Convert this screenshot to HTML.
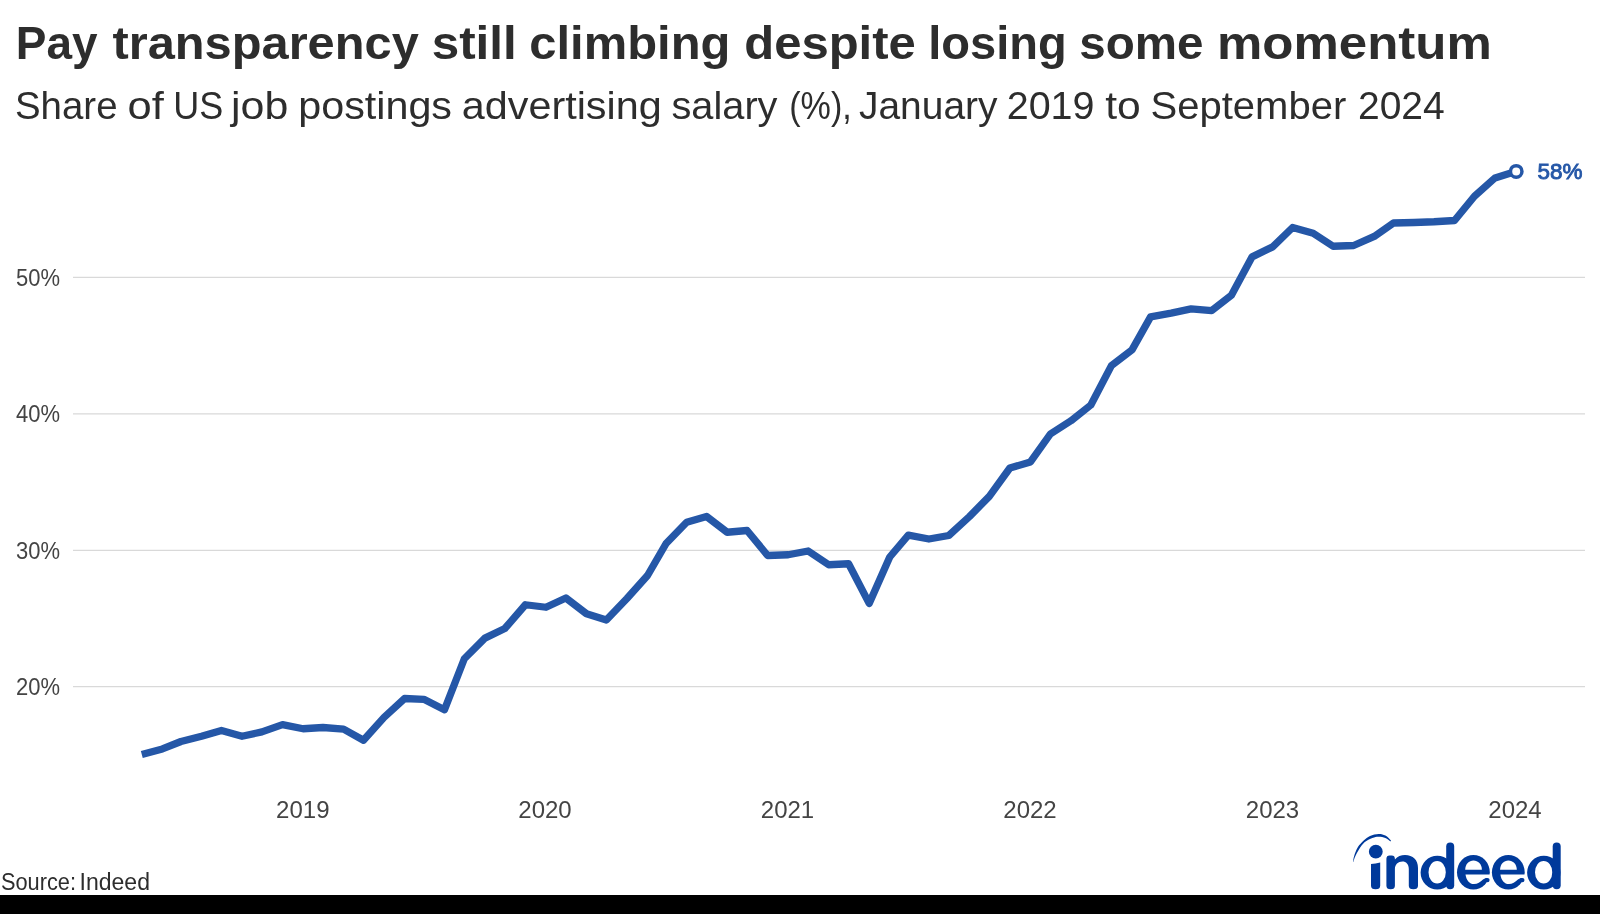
<!DOCTYPE html>
<html><head><meta charset="utf-8"><style>
html,body{margin:0;padding:0;background:#fff;width:1600px;height:914px;overflow:hidden;}
svg{position:absolute;left:0;top:0;display:block;will-change:transform;}
text{font-family:"Liberation Sans",sans-serif;}
</style></head><body>
<svg width="1600" height="914" viewBox="0 0 1600 914">
<rect x="0" y="0" width="1600" height="914" fill="#fff"/>
<g id="words">
<text x="15.75" y="59.2" font-size="47" font-weight="bold" fill="#2d2d2d" textLength="81.75" lengthAdjust="spacingAndGlyphs">Pay</text>
<text x="112.50" y="59.2" font-size="47" font-weight="bold" fill="#2d2d2d" textLength="306.25" lengthAdjust="spacingAndGlyphs">transparency</text>
<text x="431.75" y="59.2" font-size="47" font-weight="bold" fill="#2d2d2d" textLength="85.00" lengthAdjust="spacingAndGlyphs">still</text>
<text x="529.25" y="59.2" font-size="47" font-weight="bold" fill="#2d2d2d" textLength="201.25" lengthAdjust="spacingAndGlyphs">climbing</text>
<text x="744.25" y="59.2" font-size="47" font-weight="bold" fill="#2d2d2d" textLength="171.50" lengthAdjust="spacingAndGlyphs">despite</text>
<text x="928.25" y="59.2" font-size="47" font-weight="bold" fill="#2d2d2d" textLength="138.50" lengthAdjust="spacingAndGlyphs">losing</text>
<text x="1079.25" y="59.2" font-size="47" font-weight="bold" fill="#2d2d2d" textLength="124.25" lengthAdjust="spacingAndGlyphs">some</text>
<text x="1217.00" y="59.2" font-size="47" font-weight="bold" fill="#2d2d2d" textLength="274.75" lengthAdjust="spacingAndGlyphs">momentum</text>
<text x="15.00" y="119.3" font-size="39.5" fill="#2d2d2d" textLength="102.50" lengthAdjust="spacingAndGlyphs">Share</text>
<text x="127.50" y="119.3" font-size="39.5" fill="#2d2d2d" textLength="36.25" lengthAdjust="spacingAndGlyphs">of</text>
<text x="173.25" y="119.3" font-size="39.5" fill="#2d2d2d" textLength="50.00" lengthAdjust="spacingAndGlyphs">US</text>
<text x="231.00" y="119.3" font-size="39.5" fill="#2d2d2d" textLength="57.25" lengthAdjust="spacingAndGlyphs">job</text>
<text x="298.25" y="119.3" font-size="39.5" fill="#2d2d2d" textLength="153.75" lengthAdjust="spacingAndGlyphs">postings</text>
<text x="461.75" y="119.3" font-size="39.5" fill="#2d2d2d" textLength="200.00" lengthAdjust="spacingAndGlyphs">advertising</text>
<text x="671.50" y="119.3" font-size="39.5" fill="#2d2d2d" textLength="106.00" lengthAdjust="spacingAndGlyphs">salary</text>
<text x="789.25" y="119.3" font-size="39.5" fill="#2d2d2d" textLength="62.50" lengthAdjust="spacingAndGlyphs">(%),</text>
<text x="859.00" y="119.3" font-size="39.5" fill="#2d2d2d" textLength="138.50" lengthAdjust="spacingAndGlyphs">January</text>
<text x="1006.75" y="119.3" font-size="39.5" fill="#2d2d2d" textLength="87.75" lengthAdjust="spacingAndGlyphs">2019</text>
<text x="1105.25" y="119.3" font-size="39.5" fill="#2d2d2d" textLength="35.50" lengthAdjust="spacingAndGlyphs">to</text>
<text x="1150.50" y="119.3" font-size="39.5" fill="#2d2d2d" textLength="195.75" lengthAdjust="spacingAndGlyphs">September</text>
<text x="1358.00" y="119.3" font-size="39.5" fill="#2d2d2d" textLength="86.75" lengthAdjust="spacingAndGlyphs">2024</text>
</g>
<g stroke="#d9d9d9" stroke-width="1.2">
<line x1="73" y1="277.4" x2="1585" y2="277.4"/>
<line x1="73" y1="413.8" x2="1585" y2="413.8"/>
<line x1="73" y1="550.3" x2="1585" y2="550.3"/>
<line x1="73" y1="686.7" x2="1585" y2="686.7"/>
</g>
<g font-size="24" fill="#444444" text-anchor="end">
<text x="60" y="286" textLength="44" lengthAdjust="spacingAndGlyphs">50%</text>
<text x="60" y="422.4" textLength="44" lengthAdjust="spacingAndGlyphs">40%</text>
<text x="60" y="558.9" textLength="44" lengthAdjust="spacingAndGlyphs">30%</text>
<text x="60" y="695.3" textLength="44" lengthAdjust="spacingAndGlyphs">20%</text>
</g>
<g font-size="24" fill="#444444" text-anchor="middle">
<text x="302.8" y="818">2019</text>
<text x="545" y="818">2020</text>
<text x="787.5" y="818">2021</text>
<text x="1030" y="818">2022</text>
<text x="1272.5" y="818">2023</text>
<text x="1515" y="818">2024</text>
</g>
<path d="M141.80,754.50 L162.37,748.90 L180.96,741.50 L201.53,736.25 L221.44,730.40 L242.01,736.25 L261.92,731.90 L282.50,724.60 L303.07,728.75 L322.98,727.50 L343.56,729.10 L363.47,740.30 L384.04,717.40 L404.61,698.50 L423.86,699.30 L444.43,709.80 L464.34,658.75 L484.92,638.10 L504.83,628.50 L525.40,604.75 L545.98,607.25 L565.89,598.00 L586.46,613.75 L606.37,620.00 L626.94,598.50 L647.52,575.50 L666.10,543.50 L686.67,522.25 L706.58,516.50 L727.16,532.25 L747.07,530.50 L767.64,555.50 L788.22,554.75 L808.13,551.00 L828.70,564.75 L848.61,563.75 L869.18,603.40 L889.76,557.00 L908.34,535.10 L928.91,539.00 L948.82,535.50 L969.40,516.60 L989.31,496.40 L1009.88,468.00 L1030.46,461.90 L1050.37,434.00 L1070.94,420.80 L1090.85,405.00 L1111.42,365.60 L1132.00,349.85 L1150.58,316.85 L1171.15,313.10 L1191.06,308.85 L1211.64,310.60 L1231.55,295.10 L1252.12,256.85 L1272.70,246.85 L1292.61,227.50 L1313.18,233.20 L1333.09,246.25 L1353.66,245.50 L1374.24,236.40 L1393.48,223.00 L1414.06,222.50 L1433.97,221.75 L1454.54,220.50 L1474.45,196.25 L1495.03,177.90 L1515.60,171.50" fill="none" stroke="#2557a7" stroke-width="7.3" stroke-linejoin="round" stroke-linecap="butt"/>
<circle cx="1516.2" cy="171.4" r="5.75" fill="#fff" stroke="#2557a7" stroke-width="3.5"/>
<text x="1537.5" y="179.4" font-size="22.5" font-weight="normal" fill="#2557a7" stroke="#2557a7" stroke-width="0.9" textLength="45" lengthAdjust="spacingAndGlyphs">58%</text>
<text x="1" y="890" font-size="23" fill="#2d2d2d" textLength="75" lengthAdjust="spacingAndGlyphs">Source:</text><text x="79.5" y="890" font-size="23" fill="#2d2d2d" textLength="70.5" lengthAdjust="spacingAndGlyphs">Indeed</text>
<g id="logo" fill="#003a9b">
<path d="M1353.0,861.8 C1353.22,860.77 1353.50,858.02 1354.30,855.60 C1355.10,853.18 1356.23,849.80 1357.80,847.30 C1359.37,844.80 1361.67,842.50 1363.70,840.60 C1365.73,838.70 1367.50,837.02 1370.00,835.90 C1372.50,834.78 1376.13,833.97 1378.70,833.90 C1381.27,833.83 1383.35,834.42 1385.40,835.50 C1387.45,836.58 1390.07,839.58 1391.00,840.40 L1390.4,841.6 C1389.57,841.02 1387.35,838.90 1385.40,838.10 C1383.45,837.30 1380.87,836.82 1378.70,836.80 C1376.53,836.78 1374.77,837.08 1372.40,838.00 C1370.03,838.92 1366.77,840.33 1364.50,842.30 C1362.23,844.27 1360.35,847.43 1358.80,849.80 C1357.25,852.17 1356.12,854.47 1355.20,856.50 C1354.28,858.53 1353.62,861.08 1353.30,862.00 Z"/>
<circle cx="1375.8" cy="851.7" r="6.9"/>
<path d="M1371,864 Q1375.5,863.6 1380.2,862.4 V885.8 Q1380.2,889.3 1375.6,889.3 Q1371,889.3 1371,885.8 Z"/>
<path d="M1394.9,859.5 C1397.5,856.5 1401,855.1 1405,855.1 C1413,855.1 1418,860 1418,868 V885.8 Q1418,889.3 1413.4,889.3 Q1408.8,889.3 1408.8,885.8 V869 C1408.8,864 1406,861.4 1402.5,861.4 C1398,861.4 1394.9,864.5 1394.9,869 V885.8 Q1394.9,889.3 1390.65,889.3 Q1386.4,889.3 1386.4,885.8 V858.8 Q1386.4,855.4 1389.6,855.4 H1391.7 Q1394.9,855.4 1394.9,858.8 Z"/>
<g id="d1">
<path fill-rule="evenodd" d="M1420.6,872.6 A16.7,16.9 0 1 0 1454,872.6 A16.7,16.9 0 1 0 1420.6,872.6 Z M1428.5,872.25 A8.65,11.35 0 1 0 1445.8,872.25 A8.65,11.35 0 1 0 1428.5,872.25 Z"/>
<path d="M1446.2,846.5 Q1446.2,842.5 1450.2,842.5 Q1454.2,842.5 1454.2,846.5 V885.3 Q1454.2,889.2 1450.2,889.2 Q1446.2,889.2 1446.2,885.3 Z"/>
</g>
<g transform="translate(106.5,0)">
<path fill-rule="evenodd" d="M1420.6,872.6 A16.7,16.9 0 1 0 1454,872.6 A16.7,16.9 0 1 0 1420.6,872.6 Z M1428.5,872.25 A8.65,11.35 0 1 0 1445.8,872.25 A8.65,11.35 0 1 0 1428.5,872.25 Z"/>
<path d="M1446.2,846.5 Q1446.2,842.5 1450.2,842.5 Q1454.2,842.5 1454.2,846.5 V885.3 Q1454.2,889.2 1450.2,889.2 Q1446.2,889.2 1446.2,885.3 Z"/>
</g>
<g id="e1">
<path d="M1457,872.25 A16.4,17.25 0 1 0 1489.8,872.25 A16.4,17.25 0 1 0 1457,872.25 Z"/>
<path fill="#fff" d="M1465.2,869.8 C1465.2,864.2 1469,860.6 1473.5,860.6 C1478,860.6 1481.9,864.2 1481.9,869.8 Z"/>
<path fill="#fff" d="M1465.5,874.4 C1466.3,880 1469.5,884.1 1474,884.1 C1477.5,884.1 1480.3,882.3 1483,879.6 C1484.3,878.5 1485.4,877.9 1486.8,877.9 L1490.6,877.9 L1490.6,874.4 Z"/><path fill="#fff" d="M1487.4,877.9 L1491,877.9 L1491,880.1 L1487.4,880.1 Z"/><circle cx="1487.4" cy="880.1" r="2.2"/>
</g>
<g transform="translate(34.9,0)">
<path d="M1457,872.25 A16.4,17.25 0 1 0 1489.8,872.25 A16.4,17.25 0 1 0 1457,872.25 Z"/>
<path fill="#fff" d="M1465.2,869.8 C1465.2,864.2 1469,860.6 1473.5,860.6 C1478,860.6 1481.9,864.2 1481.9,869.8 Z"/>
<path fill="#fff" d="M1465.5,874.4 C1466.3,880 1469.5,884.1 1474,884.1 C1477.5,884.1 1480.3,882.3 1483,879.6 C1484.3,878.5 1485.4,877.9 1486.8,877.9 L1490.6,877.9 L1490.6,874.4 Z"/><path fill="#fff" d="M1487.4,877.9 L1491,877.9 L1491,880.1 L1487.4,880.1 Z"/><circle cx="1487.4" cy="880.1" r="2.2"/>
</g>
</g>

<rect x="0" y="895" width="1600" height="19" fill="#000"/>
</svg>
</body></html>
